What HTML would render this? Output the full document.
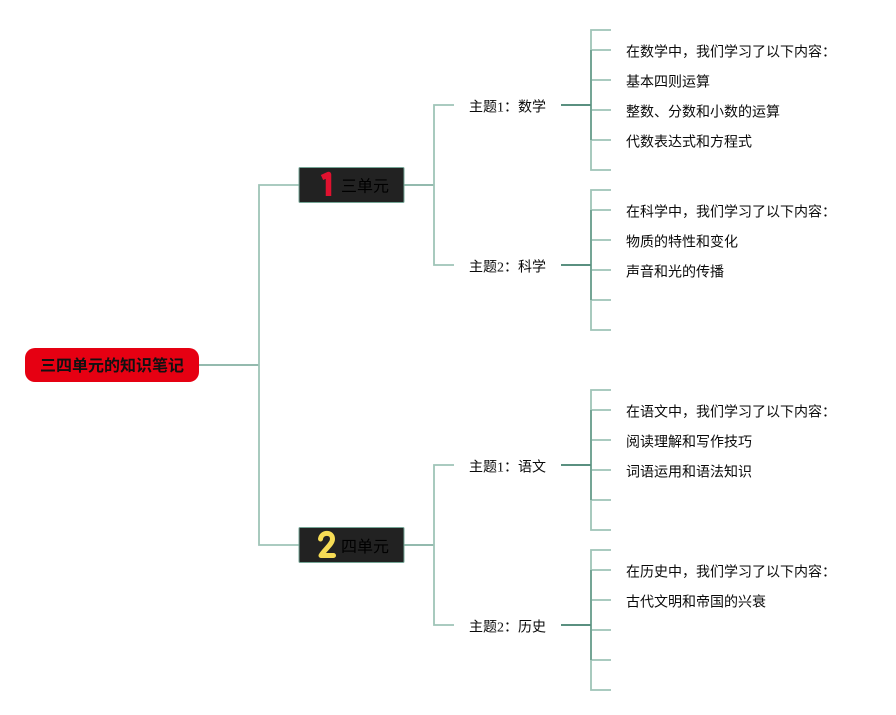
<!DOCTYPE html>
<html><head><meta charset="utf-8"><style>
html,body{margin:0;padding:0;background:#fff;width:896px;height:715px;overflow:hidden}
svg{display:block}
text{font-family:"Liberation Serif","Noto Sans CJK SC",sans-serif;font-size:14px;fill:#0a0a0a}
.l{stroke:#9fc4b7;stroke-width:1.8;fill:none}
.m{stroke:#74a595;stroke-width:2;fill:none}
.d{stroke:#5a9080;stroke-width:2;fill:none}
.r{stroke:#84b1a2;stroke-width:1.8;fill:none}
</style></head><body>
<svg width="896" height="715" viewBox="0 0 896 715" xmlns="http://www.w3.org/2000/svg">
<path class="r" d="M199 365H259"/>
<path class="l" d="M299 185H259V545H299"/>
<path class="r" d="M404 185H434M404 545H434"/>
<path class="l" d="M454 105H434V265H454M454 465H434V625H454"/>

<path class="l" d="M611 30H591V170H611M591 50H611M591 80H611M591 110H611M591 140H611"/>
<path class="m" d="M591 50V140"/><path class="d" d="M561 105H591"/>
<path class="l" d="M611 190H591V330H611M591 210H611M591 240H611M591 270H611M591 300H611"/>
<path class="m" d="M591 210V300"/><path class="d" d="M561 265H591"/>
<path class="l" d="M611 390H591V530H611M591 410H611M591 440H611M591 470H611M591 500H611"/>
<path class="m" d="M591 410V500"/><path class="d" d="M561 465H591"/>
<path class="l" d="M611 550H591V690H611M591 570H611M591 600H611M591 630H611M591 660H611"/>
<path class="m" d="M591 570V660"/><path class="d" d="M561 625H591"/>

<rect x="25" y="348" width="174" height="34" rx="10" fill="#e60012"/>
<text x="40" y="371" style="font-size:16px;font-weight:bold;font-family:'Noto Sans CJK SC',sans-serif;fill:#111">三四单元的知识笔记</text>

<rect x="299" y="167.500" width="105" height="35" rx="1" fill="#222" stroke="#74a595"/>
<rect x="299" y="527.500" width="105" height="35" rx="1" fill="#222" stroke="#74a595"/>
<path d="M322 177.500L328.500 174.500V196" fill="none" stroke="#e0112f" stroke-width="5.500" stroke-linejoin="round"/>
<path d="M320.500 539C321.500 531.500 332.500 531.500 332.500 539C332.500 544 325 549 321 555.500H333.500" fill="none" stroke="#f6dc55" stroke-width="5" stroke-linejoin="round" stroke-linecap="round"/>
<text x="341" y="191.500" style="font-size:16px;fill:#000">三单元</text>
<text x="341" y="552" style="font-size:16px;fill:#000">四单元</text>

<text x="469" y="111.500">主题1：数学</text>
<text x="469" y="271.500">主题2：科学</text>
<text x="469" y="471.500">主题1：语文</text>
<text x="469" y="631.500">主题2：历史</text>

<text x="626" y="56.500">在数学中，我们学习了以下内容：</text>
<text x="626" y="86.500">基本四则运算</text>
<text x="626" y="116.500">整数、分数和小数的运算</text>
<text x="626" y="146.500">代数表达式和方程式</text>

<text x="626" y="216.500">在科学中，我们学习了以下内容：</text>
<text x="626" y="246.500">物质的特性和变化</text>
<text x="626" y="276.500">声音和光的传播</text>

<text x="626" y="416.500">在语文中，我们学习了以下内容：</text>
<text x="626" y="446.500">阅读理解和写作技巧</text>
<text x="626" y="476.500">词语运用和语法知识</text>

<text x="626" y="576.500">在历史中，我们学习了以下内容：</text>
<text x="626" y="606.500">古代文明和帝国的兴衰</text>
</svg>
</body></html>
